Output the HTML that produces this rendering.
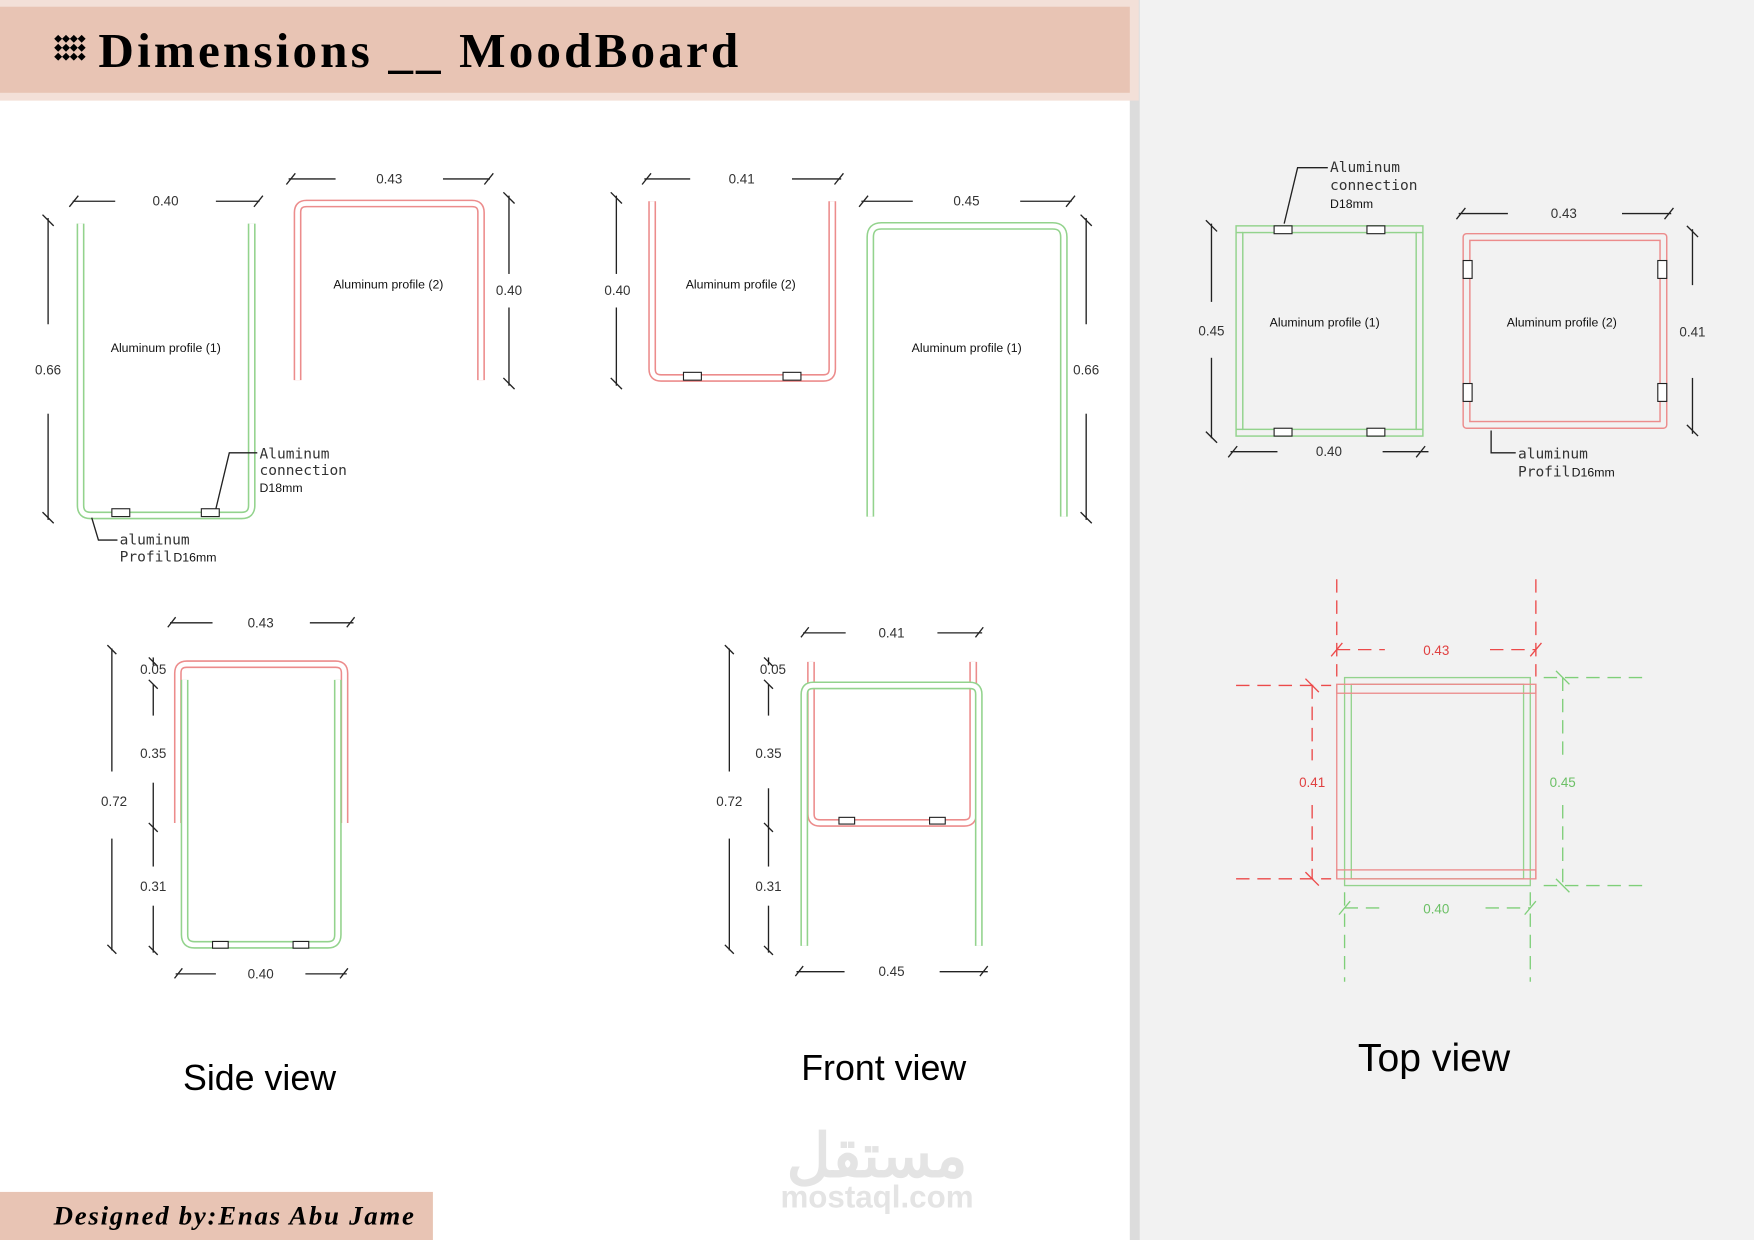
<!DOCTYPE html>
<html><head><meta charset="utf-8"><style>
html,body{margin:0;padding:0;background:#fff}
svg{display:block}
.t{font-family:"Liberation Sans",sans-serif;font-size:11px;fill:#111}
.d{font-family:"Liberation Sans",sans-serif;font-size:12px;fill:#333;text-anchor:middle}
.m{font-family:"DejaVu Sans Mono","Liberation Mono",monospace;font-size:13px;fill:#333}
.g{fill:none;stroke:#93d38d;stroke-width:7}
.r{fill:none;stroke:#ec8c8c;stroke-width:7}
.w{fill:none;stroke:#fff;stroke-width:4.2}
.k{stroke:#222;stroke-width:1.2;fill:none}
.bx{fill:#fff;stroke:#222;stroke-width:1}
</style></head><body>
<svg width="1754" height="1240" viewBox="0 0 1568 1109" preserveAspectRatio="none" xmlns="http://www.w3.org/2000/svg">
<rect width="1568" height="1109" fill="#fff"/>
<rect x="1010" y="0" width="9" height="1109" fill="#dcdcdc"/>
<rect x="1019" y="0" width="549" height="1109" fill="#f2f2f2"/>
<rect x="0" y="0" width="1018" height="90" fill="#f3e0d8"/>
<rect x="0" y="6" width="1010" height="77" fill="#e8c4b4"/>
<g fill="#000">
<rect x="50" y="32" width="5" height="5" transform="rotate(45 52 34)"/><rect x="57" y="32" width="5" height="5" transform="rotate(45 59 34)"/><rect x="64" y="32" width="5" height="5" transform="rotate(45 66 34)"/><rect x="71" y="32" width="5" height="5" transform="rotate(45 73 34)"/>
<rect x="50" y="40" width="5" height="5" transform="rotate(45 52 42)"/><rect x="57" y="40" width="5" height="5" transform="rotate(45 59 42)"/><rect x="64" y="40" width="5" height="5" transform="rotate(45 66 42)"/><rect x="71" y="40" width="5" height="5" transform="rotate(45 73 42)"/>
<rect x="50" y="48" width="5" height="5" transform="rotate(45 52 50)"/><rect x="57" y="48" width="5" height="5" transform="rotate(45 59 50)"/><rect x="64" y="48" width="5" height="5" transform="rotate(45 66 50)"/><rect x="71" y="48" width="5" height="5" transform="rotate(45 73 50)"/>
</g>
<text x="88" y="60" font-family="Liberation Serif,serif" font-weight="bold" font-size="44" fill="#000" textLength="572">Dimensions __ MoodBoard</text>
<rect x="0" y="1066" width="387" height="43" fill="#e8c4b4"/>
<text x="48" y="1095" font-family="Liberation Serif,serif" font-weight="bold" font-style="italic" font-size="24" fill="#000" textLength="322">Designed by:Enas Abu Jame</text>

<path d="M72,200 L72,452 Q72,461 81,461 L216,461 Q225,461 225,452 L225,200" class="g"/>
<path d="M72,200 L72,452 Q72,461 81,461 L216,461 Q225,461 225,452 L225,200" class="w"/>
<rect x="100" y="455" width="16" height="7" class="bx"/><rect x="180" y="455" width="16" height="7" class="bx"/>
<g class="k"><line x1="65" y1="180" x2="103" y2="180"/><line x1="193" y1="180" x2="232" y2="180"/><line x1="62" y1="185" x2="70" y2="175"/><line x1="227" y1="185" x2="235" y2="175"/>
<line x1="43" y1="195" x2="43" y2="290"/><line x1="43" y1="370" x2="43" y2="465"/><line x1="38" y1="192" x2="48" y2="202"/><line x1="38" y1="458" x2="48" y2="468"/>
<polyline points="230,405 205,405 193,455"/><polyline points="82,463 88,483 105,483"/></g>
<text class="d" x="148" y="184">0.40</text><text class="d" x="43" y="335">0.66</text>
<text class="t" x="99" y="315">Aluminum profile  (1)</text>
<text class="m" x="232" y="410">Aluminum</text><text class="m" x="232" y="425">connection</text><text class="t" x="232" y="440" font-size="12">D18mm</text>
<text class="m" x="107" y="487">aluminum</text><text class="m" x="107" y="502">Profil</text><text class="t" x="155" y="502" font-size="12">D16mm</text>

<path d="M266,340 L266,190 Q266,182 274,182 L422,182 Q430,182 430,190 L430,340" class="r"/>
<path d="M266,340 L266,190 Q266,182 274,182 L422,182 Q430,182 430,190 L430,340" class="w"/>
<g class="k"><line x1="258" y1="160" x2="300" y2="160"/><line x1="396" y1="160" x2="438" y2="160"/><line x1="256" y1="165" x2="264" y2="155"/><line x1="433" y1="165" x2="441" y2="155"/>
<line x1="455" y1="175" x2="455" y2="245"/><line x1="455" y1="275" x2="455" y2="345"/><line x1="450" y1="172" x2="460" y2="182"/><line x1="450" y1="338" x2="460" y2="348"/></g>
<text class="d" x="348" y="164">0.43</text><text class="d" x="455" y="264">0.40</text>
<text class="t" x="298" y="258">Aluminum profile  (2)</text>

<path d="M583,180 L583,330 Q583,338 591,338 L736,338 Q744,338 744,330 L744,180" class="r"/>
<path d="M583,180 L583,330 Q583,338 591,338 L736,338 Q744,338 744,330 L744,180" class="w"/>
<rect x="611" y="333" width="16" height="7" class="bx"/><rect x="700" y="333" width="16" height="7" class="bx"/>
<g class="k"><line x1="576" y1="160" x2="617" y2="160"/><line x1="708" y1="160" x2="752" y2="160"/><line x1="574" y1="165" x2="582" y2="155"/><line x1="746" y1="165" x2="754" y2="155"/>
<line x1="551" y1="175" x2="551" y2="245"/><line x1="551" y1="275" x2="551" y2="345"/><line x1="546" y1="172" x2="556" y2="182"/><line x1="546" y1="338" x2="556" y2="348"/></g>
<text class="d" x="663" y="164">0.41</text><text class="d" x="552" y="264">0.40</text>
<text class="t" x="613" y="258">Aluminum profile  (2)</text>

<path d="M778,462 L778,212 Q778,202 788,202 L941,202 Q951,202 951,212 L951,462" class="g"/>
<path d="M778,462 L778,212 Q778,202 788,202 L941,202 Q951,202 951,212 L951,462" class="w"/>
<g class="k"><line x1="770" y1="180" x2="816" y2="180"/><line x1="912" y1="180" x2="958" y2="180"/><line x1="768" y1="185" x2="776" y2="175"/><line x1="953" y1="185" x2="961" y2="175"/>
<line x1="971" y1="195" x2="971" y2="290"/><line x1="971" y1="370" x2="971" y2="465"/><line x1="966" y1="192" x2="976" y2="202"/><line x1="966" y1="458" x2="976" y2="468"/></g>
<text class="d" x="864" y="184">0.45</text><text class="d" x="971" y="335">0.66</text>
<text class="t" x="815" y="315">Aluminum profile  (1)</text>

<path d="M159,736 L159,602 Q159,594 167,594 L300,594 Q308,594 308,602 L308,736" class="r"/>
<path d="M159,736 L159,602 Q159,594 167,594 L300,594 Q308,594 308,602 L308,736" class="w"/>
<path d="M165,608 L165,836 Q165,845 174,845 L293,845 Q302,845 302,836 L302,608" class="g"/>
<path d="M165,608 L165,836 Q165,845 174,845 L293,845 Q302,845 302,836 L302,608" class="w"/>
<rect x="190" y="842" width="14" height="6" class="bx"/><rect x="262" y="842" width="14" height="6" class="bx"/>
<g class="k"><line x1="152" y1="557" x2="190" y2="557"/><line x1="277" y1="557" x2="316" y2="557"/><line x1="150" y1="561" x2="157" y2="552"/><line x1="310" y1="561" x2="317" y2="552"/>
<line x1="157" y1="871" x2="193" y2="871"/><line x1="273" y1="871" x2="310" y2="871"/><line x1="156" y1="875" x2="163" y2="866"/><line x1="304" y1="875" x2="311" y2="866"/>
<line x1="100" y1="580" x2="100" y2="690"/><line x1="100" y1="750" x2="100" y2="850"/><line x1="96" y1="577" x2="104" y2="585"/><line x1="96" y1="845" x2="104" y2="853"/>
<line x1="137" y1="588" x2="137" y2="595"/><line x1="137" y1="612" x2="137" y2="640"/><line x1="137" y1="700" x2="137" y2="775"/><line x1="137" y1="810" x2="137" y2="852"/>
<line x1="133" y1="588" x2="141" y2="596"/><line x1="133" y1="608" x2="141" y2="616"/><line x1="133" y1="736" x2="141" y2="744"/><line x1="133" y1="846" x2="141" y2="854"/></g>
<text class="d" x="233" y="561">0.43</text><text class="d" x="233" y="875">0.40</text><text class="d" x="102" y="721">0.72</text>
<text class="d" x="137" y="603">0.05</text><text class="d" x="137" y="678">0.35</text><text class="d" x="137" y="797">0.31</text>

<path d="M725,592 L725,728 Q725,736 733,736 L862,736 Q870,736 870,728 L870,592" class="r"/>
<path d="M725,592 L725,728 Q725,736 733,736 L862,736 Q870,736 870,728 L870,592" class="w"/>
<path d="M719,846 L719,621 Q719,613 727,613 L867,613 Q875,613 875,621 L875,846" class="g"/>
<path d="M719,846 L719,621 Q719,613 727,613 L867,613 Q875,613 875,621 L875,846" class="w"/>
<rect x="750" y="731" width="14" height="6" class="bx"/><rect x="831" y="731" width="14" height="6" class="bx"/>
<g class="k"><line x1="718" y1="566" x2="756" y2="566"/><line x1="838" y1="566" x2="878" y2="566"/><line x1="716" y1="570" x2="723" y2="561"/><line x1="872" y1="570" x2="879" y2="561"/>
<line x1="712" y1="869" x2="755" y2="869"/><line x1="840" y1="869" x2="883" y2="869"/><line x1="711" y1="873" x2="718" y2="864"/><line x1="876" y1="873" x2="883" y2="864"/>
<line x1="652" y1="580" x2="652" y2="690"/><line x1="652" y1="750" x2="652" y2="850"/><line x1="648" y1="577" x2="656" y2="585"/><line x1="648" y1="845" x2="656" y2="853"/>
<line x1="687" y1="588" x2="687" y2="595"/><line x1="687" y1="612" x2="687" y2="640"/><line x1="687" y1="705" x2="687" y2="775"/><line x1="687" y1="810" x2="687" y2="852"/>
<line x1="683" y1="588" x2="691" y2="596"/><line x1="683" y1="608" x2="691" y2="616"/><line x1="683" y1="736" x2="691" y2="744"/><line x1="683" y1="846" x2="691" y2="854"/></g>
<text class="d" x="797" y="570">0.41</text><text class="d" x="797" y="873">0.45</text><text class="d" x="652" y="721">0.72</text>
<text class="d" x="691" y="603">0.05</text><text class="d" x="687" y="678">0.35</text><text class="d" x="687" y="797">0.31</text>

<text x="232" y="975" font-family="Liberation Sans,sans-serif" font-size="32" text-anchor="middle" fill="#000">Side view</text>
<text x="790" y="966" font-family="Liberation Sans,sans-serif" font-size="32" text-anchor="middle" fill="#000">Front view</text>
<text x="1282" y="958" font-family="Liberation Sans,sans-serif" font-size="35" text-anchor="middle" fill="#000">Top view</text>
<text x="784" y="1052" font-family="Liberation Sans,sans-serif" font-size="54" font-weight="bold" text-anchor="middle" fill="#e4e4e4">مستقل</text>
<text x="784" y="1080" font-family="Liberation Sans,sans-serif" font-size="28" font-weight="bold" text-anchor="middle" fill="#e4e4e4">mostaql.com</text>

<g fill="none" stroke="#93d38d" stroke-width="1.3">
<rect x="1105" y="202" width="167" height="188"/><rect x="1111" y="208" width="155" height="176"/>
<line x1="1105" y1="208" x2="1111" y2="208"/><line x1="1266" y1="208" x2="1272" y2="208"/><line x1="1105" y1="384" x2="1111" y2="384"/><line x1="1266" y1="384" x2="1272" y2="384"/>
</g>
<rect x="1139" y="202" width="16" height="7" class="bx"/><rect x="1222" y="202" width="16" height="7" class="bx"/>
<rect x="1139" y="383" width="16" height="7" class="bx"/><rect x="1222" y="383" width="16" height="7" class="bx"/>
<g class="k"><polyline points="1187,150 1160,150 1148,200"/>
<line x1="1083" y1="200" x2="1083" y2="270"/><line x1="1083" y1="320" x2="1083" y2="392"/><line x1="1078" y1="197" x2="1088" y2="207"/><line x1="1078" y1="386" x2="1088" y2="396"/>
<line x1="1100" y1="404" x2="1142" y2="404"/><line x1="1236" y1="404" x2="1277" y2="404"/><line x1="1098" y1="409" x2="1106" y2="399"/><line x1="1266" y1="409" x2="1274" y2="399"/></g>
<text class="m" x="1189" y="154">Aluminum</text><text class="m" x="1189" y="170">connection</text><text class="t" x="1189" y="186" font-size="12">D18mm</text>
<text class="d" x="1083" y="300">0.45</text><text class="d" x="1188" y="408">0.40</text>
<text class="t" x="1135" y="292">Aluminum profile  (1)</text>

<g fill="none" stroke="#ec8c8c" stroke-width="1.3">
<rect x="1308" y="209" width="182" height="174" rx="3"/><rect x="1314" y="215" width="170" height="162"/>
</g>
<rect x="1308" y="233" width="8" height="16" class="bx"/><rect x="1482" y="233" width="8" height="16" class="bx"/>
<rect x="1308" y="343" width="8" height="16" class="bx"/><rect x="1482" y="343" width="8" height="16" class="bx"/>
<g class="k"><line x1="1304" y1="191" x2="1348" y2="191"/><line x1="1450" y1="191" x2="1494" y2="191"/><line x1="1302" y1="196" x2="1310" y2="186"/><line x1="1488" y1="196" x2="1496" y2="186"/>
<line x1="1513" y1="205" x2="1513" y2="255"/><line x1="1513" y1="338" x2="1513" y2="388"/><line x1="1508" y1="202" x2="1518" y2="212"/><line x1="1508" y1="380" x2="1518" y2="390"/>
<polyline points="1333,385 1333,405 1355,405"/></g>
<text class="d" x="1398" y="195">0.43</text><text class="d" x="1513" y="301">0.41</text>
<text class="t" x="1347" y="292">Aluminum profile  (2)</text>
<text class="m" x="1357" y="410">aluminum</text><text class="m" x="1357" y="426">Profil</text><text class="t" x="1405" y="426" font-size="12">D16mm</text>

<g fill="none" stroke="#93d38d" stroke-width="1.2">
<rect x="1202" y="606" width="166" height="186"/><rect x="1208" y="612" width="154" height="174"/>
</g>
<g fill="none" stroke="#ec8c8c" stroke-width="1.2">
<rect x="1195" y="612" width="178" height="8"/><rect x="1195" y="778" width="178" height="8"/>
<line x1="1195" y1="612" x2="1195" y2="786"/><line x1="1373" y1="612" x2="1373" y2="786"/>
</g>
<g fill="none" stroke="#ec4a4a" stroke-width="1.2" stroke-dasharray="12,7">
<line x1="1195" y1="518" x2="1195" y2="605"/><line x1="1373" y1="518" x2="1373" y2="605"/>
<line x1="1195" y1="581" x2="1238" y2="581"/><line x1="1332" y1="581" x2="1373" y2="581"/>
<line x1="1105" y1="613" x2="1190" y2="613"/><line x1="1105" y1="786" x2="1190" y2="786"/>
<line x1="1173" y1="613" x2="1173" y2="680"/><line x1="1173" y1="720" x2="1173" y2="786"/>
</g>
<g stroke="#ec4a4a" stroke-width="1.2"><line x1="1190" y1="587" x2="1200" y2="575"/><line x1="1368" y1="587" x2="1378" y2="575"/><line x1="1167" y1="607" x2="1179" y2="619"/><line x1="1167" y1="780" x2="1179" y2="792"/></g>
<g fill="none" stroke="#7fcf79" stroke-width="1.2" stroke-dasharray="12,7">
<line x1="1380" y1="606" x2="1470" y2="606"/><line x1="1380" y1="792" x2="1470" y2="792"/>
<line x1="1397" y1="606" x2="1397" y2="680"/><line x1="1397" y1="720" x2="1397" y2="792"/>
<line x1="1202" y1="798" x2="1202" y2="878"/><line x1="1368" y1="798" x2="1368" y2="878"/>
<line x1="1202" y1="812" x2="1240" y2="812"/><line x1="1328" y1="812" x2="1368" y2="812"/>
</g>
<g stroke="#7fcf79" stroke-width="1.2"><line x1="1391" y1="600" x2="1403" y2="612"/><line x1="1391" y1="786" x2="1403" y2="798"/><line x1="1197" y1="818" x2="1207" y2="806"/><line x1="1363" y1="818" x2="1373" y2="806"/></g>
<text class="d" x="1284" y="586" style="fill:#e04040">0.43</text>
<text class="d" x="1173" y="704" style="fill:#e04040">0.41</text>
<text class="d" x="1397" y="704" style="fill:#6cc066">0.45</text>
<text class="d" x="1284" y="817" style="fill:#6cc066">0.40</text>
</svg>
</body></html>
